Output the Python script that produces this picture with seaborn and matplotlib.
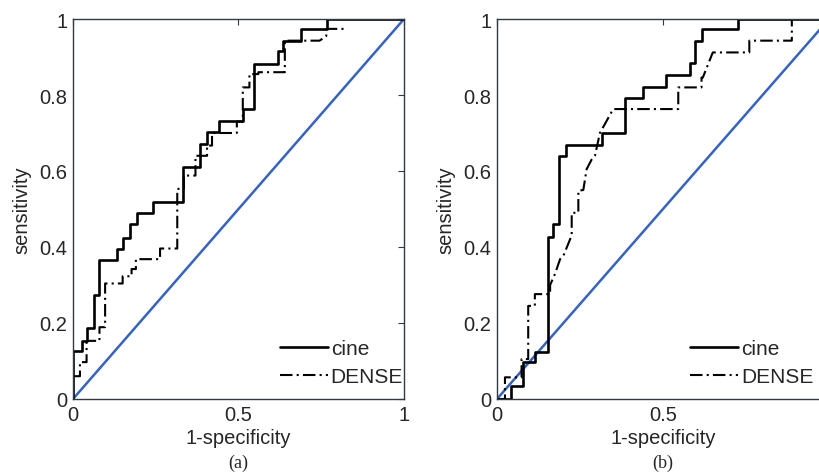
import numpy as np
import pandas as pd
import seaborn as sns
import matplotlib.pyplot as plt

# ROC step points (1-specificity, sensitivity)
a_cine_fpr = [0.0, 0.0, 0.026, 0.026, 0.041, 0.041, 0.064, 0.064, 0.08, 0.08, 0.134, 0.134,
              0.152, 0.152, 0.172, 0.172, 0.192, 0.192, 0.241, 0.241, 0.331, 0.331, 0.384, 0.384,
              0.404, 0.404, 0.442, 0.442, 0.513, 0.513, 0.548, 0.548, 0.62, 0.62, 0.635, 0.635,
              0.69, 0.69, 0.768, 0.768, 1.0]
a_cine_tpr = [0.0, 0.127, 0.127, 0.153, 0.153, 0.186, 0.186, 0.274, 0.274, 0.367, 0.367, 0.396,
              0.396, 0.425, 0.425, 0.46, 0.46, 0.49, 0.49, 0.519, 0.519, 0.61, 0.61, 0.671,
              0.671, 0.702, 0.702, 0.731, 0.731, 0.763, 0.763, 0.882, 0.882, 0.917, 0.917, 0.943,
              0.943, 0.974, 0.974, 1.0, 1.0]

a_dense_fpr = [0.0, 0.0, 0.021, 0.021, 0.041, 0.041, 0.08, 0.08, 0.097, 0.097, 0.15, 0.15,
               0.177, 0.177, 0.19, 0.19, 0.263, 0.263, 0.315, 0.315, 0.335, 0.335, 0.37, 0.37,
               0.405, 0.405, 0.42, 0.42, 0.495, 0.495, 0.513, 0.513, 0.533, 0.533, 0.56, 0.56,
               0.64, 0.64, 0.705, 0.745, 0.765, 0.765, 0.83]
a_dense_tpr = [0.0, 0.06, 0.06, 0.097, 0.097, 0.153, 0.153, 0.189, 0.189, 0.304, 0.304, 0.323,
               0.323, 0.342, 0.342, 0.368, 0.368, 0.396, 0.396, 0.553, 0.553, 0.588, 0.588, 0.64,
               0.64, 0.667, 0.667, 0.70, 0.70, 0.73, 0.73, 0.82, 0.82, 0.855, 0.855, 0.86,
               0.86, 0.943, 0.943, 0.943, 0.955, 0.974, 0.974]

b_cine_fpr = [0.0, 0.042, 0.042, 0.079, 0.079, 0.114, 0.114, 0.153, 0.153, 0.168, 0.168,
              0.187, 0.187, 0.208, 0.208, 0.315, 0.315, 0.386, 0.386, 0.441, 0.441, 0.508, 0.508,
              0.581, 0.581, 0.596, 0.596, 0.616, 0.616, 0.727, 0.727, 1.0]
b_cine_tpr = [0.0, 0.0, 0.033, 0.033, 0.097, 0.097, 0.125, 0.125, 0.427, 0.427, 0.46,
              0.46, 0.64, 0.64, 0.669, 0.669, 0.70, 0.70, 0.792, 0.792, 0.822, 0.822, 0.853,
              0.853, 0.884, 0.884, 0.943, 0.943, 0.974, 0.974, 1.0, 1.0]

b_dense_fpr = [0.0, 0.024, 0.024, 0.074, 0.074, 0.094, 0.094, 0.114, 0.114, 0.16, 0.16,
               0.175, 0.19, 0.2, 0.22, 0.225, 0.225, 0.245, 0.245, 0.26, 0.27, 0.285, 0.295,
               0.31, 0.35, 0.546, 0.546, 0.616, 0.616, 0.62, 0.65, 0.65, 0.76, 0.76, 0.888, 0.888]
b_dense_tpr = [0.0, 0.0, 0.057, 0.057, 0.105, 0.105, 0.245, 0.245, 0.276, 0.276, 0.30,
               0.33, 0.368, 0.377, 0.42, 0.43, 0.49, 0.49, 0.548, 0.55, 0.605, 0.63, 0.64,
               0.70, 0.763, 0.763, 0.82, 0.82, 0.846, 0.846, 0.912, 0.912, 0.912, 0.943, 0.943, 1.0]

diag = [0.0, 1.0]
x_ticks = [0, 0.5, 1]
y_ticks = [0, 0.2, 0.4, 0.6, 0.8, 1]
y_ticklabels = ['0', '0.2', '0.4', '0.6', '0.8', '1']

sns.set_theme(style="white")
plt.rcParams['font.family'] = ['Liberation Sans', 'DejaVu Sans']

fig = plt.figure(figsize=(8.2, 4.77), dpi=100)
ax_a = fig.add_axes([73 / 820, 77 / 477, 331 / 820, 380 / 477])
ax_b = fig.add_axes([497 / 820, 77 / 477, 332 / 820, 380 / 477])

spine_col = '#2e3a46'
blue = '#3563c4'

panels = [
    (ax_a, a_cine_fpr, a_cine_tpr, a_dense_fpr, a_dense_tpr, '(a)', (1.035, 0.0), ['0', '0.5', '1']),
    (ax_b, b_cine_fpr, b_cine_tpr, b_dense_fpr, b_dense_tpr, '(b)', (0.99, 0.0), ['0', '0.5', '']),
]

for ax, cx, cy, dx, dy, cap, leg_pos, xlabels in panels:
    sns.lineplot(x=diag, y=diag, ax=ax, color=blue, lw=1.8, sort=False, estimator=None)
    sns.lineplot(x=cx, y=cy, ax=ax, color='black', lw=1.9, sort=False, estimator=None,
                 label='cine')
    sns.lineplot(x=dx, y=dy, ax=ax, color='black', lw=1.5, sort=False, estimator=None,
                 linestyle=(0, (6, 2, 1, 2)), label='DENSE')
    ax.set_xlim(0, 1)
    ax.set_ylim(0, 1)
    ax.set_xticks(x_ticks)
    ax.set_xticklabels(xlabels)
    ax.set_yticks(y_ticks)
    ax.set_yticklabels(y_ticklabels)
    ax.tick_params(direction='in', length=4, width=0.8, color=spine_col,
                   top=True, right=True, labelsize=14.5, pad=4)
    for s in ax.spines.values():
        s.set_color(spine_col)
        s.set_linewidth(1.0)
    ax.set_xlabel('1-specificity', fontsize=14.5, labelpad=3)
    ax.set_ylabel('sensitivity', fontsize=14.5, labelpad=6)
    # legend without frame, lower right
    handles, labels = ax.get_legend_handles_labels()
    ax.legend(handles, labels, loc='lower right', bbox_to_anchor=leg_pos, frameon=False,
              fontsize=15, handlelength=2.3, handletextpad=0.15, labelspacing=0.45,
              borderaxespad=0.2)
    ax.text(0.5, -0.168, cap, transform=ax.transAxes, ha='center', va='center',
            fontsize=13, family='Liberation Serif')

fig.savefig('out.png', dpi=100)
